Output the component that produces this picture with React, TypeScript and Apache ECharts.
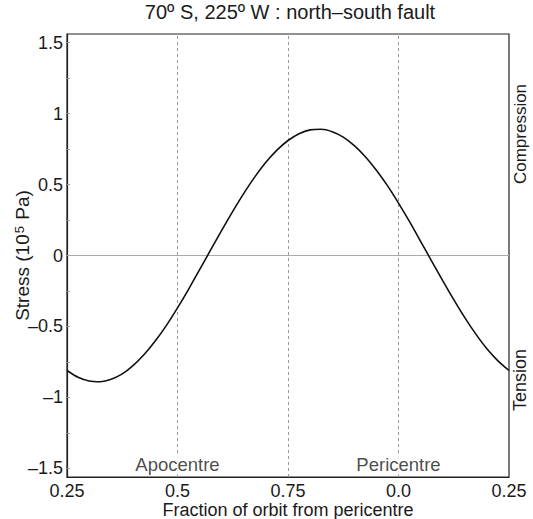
import React, { useEffect, useRef } from "react";
import * as echarts from "echarts";

const orbitFraction = [
  0.25, 0.275, 0.3, 0.325, 0.35, 0.375, 0.4, 0.425, 0.45, 0.475,
  0.5, 0.525, 0.55, 0.575, 0.6, 0.625, 0.65, 0.675, 0.7, 0.725,
  0.75, 0.775, 0.8, 0.825, 0.85, 0.875, 0.9, 0.925, 0.95, 0.975,
  1.0, 1.025, 1.05, 1.075, 1.1, 1.125, 1.15, 1.175, 1.2, 1.225, 1.25,
];
const stress = [
  -0.81, -0.858, -0.884, -0.889, -0.872, -0.834, -0.774, -0.696, -0.601, -0.492,
  -0.369, -0.238, -0.1, 0.039, 0.177, 0.311, 0.438, 0.554, 0.657, 0.742,
  0.81, 0.858, 0.885, 0.889, 0.872, 0.834, 0.774, 0.696, 0.601, 0.492,
  0.369, 0.238, 0.1, -0.039, -0.177, -0.311, -0.438, -0.554, -0.657, -0.742, -0.81,
];
const xTickValues = [0.25, 0.5, 0.75, 1.0, 1.25];
const xTickLabels = ["0.25", "0.5", "0.75", "0.0", "0.25"];
const yLabelValues = [-1.5, -1, -0.5, 0, 0.5, 1, 1.5];
const yTickValues = [-1.5, -1.25, -1, -0.75, -0.5, -0.25, 0, 0.25, 0.5, 0.75, 1, 1.25, 1.5];
const guideLines = [0.5, 0.75, 1.0];
const orbitPoints = [
  { name: "Apocentre", x: 0.5 },
  { name: "Pericentre", x: 1.0 },
];
const labelY = -1.475;

const FONT = "'Liberation Sans', Arial, sans-serif";
const TXT = "#1a1a1a";
const FS = 18;

export default function App() {
  const ref = useRef<HTMLDivElement>(null);
  useEffect(() => {
    document.body.style.margin = "0";
    const chart = echarts.init(ref.current!, null, { renderer: "svg" });
    const fmtNum = (v: number) => (v < 0 ? "\u2013" + String(-v) : String(v));
    chart.setOption({
      animation: false,
      backgroundColor: "#ffffff",
      textStyle: { fontFamily: FONT, color: TXT },
      title: {
        text: "70º S, 225º W : north\u2013south fault",
        left: 288,
        textAlign: "center",
        top: 0,
        padding: 2,
        textStyle: { fontFamily: FONT, fontSize: 20, fontWeight: "normal", color: TXT },
      },
      grid: {
        left: 67, right: 24, top: 34, bottom: 42,
        outerBoundsMode: "none",
        containLabel: false,
        show: true, borderColor: "#222", borderWidth: 1.2, backgroundColor: "#fff",
      },
      xAxis: {
        type: "value",
        min: 0.25,
        max: 1.25,
        interval: 0.25,
        name: "Fraction of orbit from pericentre",
        nameLocation: "middle",
        nameGap: 24,
        nameMoveOverlap: false,
        nameTextStyle: { fontFamily: FONT, fontSize: FS, color: TXT },
        axisLine: { show: true, onZero: false, lineStyle: { color: "#222", width: 1.2 } },
        axisTick: { show: false },
        splitLine: { show: false },
        axisLabel: {
          fontFamily: FONT,
          fontSize: FS,
          color: TXT,
          margin: 5,
          showMinLabel: true,
          showMaxLabel: true,
          formatter: (v: number) => {
            const i = xTickValues.findIndex((t) => Math.abs(t - v) < 1e-6);
            return i >= 0 ? xTickLabels[i] : "";
          },
        },
      },
      yAxis: {
        type: "value",
        min: -1.56,
        max: 1.56,
        name: "Stress (10{sup|5} Pa)",
        nameLocation: "middle",
        nameGap: 35,
        nameMoveOverlap: false,
        nameTextStyle: {
          fontFamily: FONT,
          fontSize: 19,
          color: TXT,
          rich: {
            sup: { fontFamily: FONT, fontSize: 13, color: TXT, verticalAlign: "top", lineHeight: 19, padding: [0, 1, 6, 1] },
          },
        },
        axisLine: { show: true, onZero: false, lineStyle: { color: "#222", width: 1.2 } },
        axisTick: { show: true, inside: true, length: 3, customValues: yTickValues, lineStyle: { color: "#999" } },
        splitLine: { show: false },
        axisLabel: {
          fontFamily: FONT,
          fontSize: FS,
          color: TXT,
          margin: 4,
          customValues: yLabelValues,
          formatter: (v: number) => fmtNum(v),
        },
      },
      graphic: [
        {
          type: "text",
          x: 520,
          y: 134,
          rotation: Math.PI / 2,
          style: { text: "Compression", fontFamily: FONT, fontSize: 17, fill: TXT, align: "center", verticalAlign: "middle" },
        },
        {
          type: "text",
          x: 520,
          y: 380,
          rotation: Math.PI / 2,
          style: { text: "Tension", fontFamily: FONT, fontSize: 18, fill: TXT, align: "center", verticalAlign: "middle" },
        },
      ],
      series: [
        {
          type: "line",
          data: orbitFraction.map((x, i) => [x, stress[i]]),
          smooth: 0.25,
          showSymbol: false,
          lineStyle: { color: "#111", width: 1.6 },
          z: 5,
          markLine: {
            silent: true,
            symbol: "none",
            label: { show: false },
            data: [
              { yAxis: 0, lineStyle: { color: "#aaa", type: "solid", width: 1 } },
              ...guideLines.map((g) => ({ xAxis: g, lineStyle: { color: "#999", type: [3, 3], width: 1 } })),
            ],
          },
        },
        {
          type: "scatter",
          symbolSize: 0,
          data: orbitPoints.map((p) => ({ name: p.name, value: [p.x, labelY] })),
          label: {
            show: true,
            position: "inside",
            formatter: (p: any) => p.name,
            fontFamily: FONT,
            fontSize: 18.5,
            color: TXT,
            backgroundColor: "#fff",
          },
          z: 6,
        },
      ],
    });
    return () => chart.dispose();
  }, []);
  return <div ref={ref} style={{ width: 533, height: 519 }} />;
}
